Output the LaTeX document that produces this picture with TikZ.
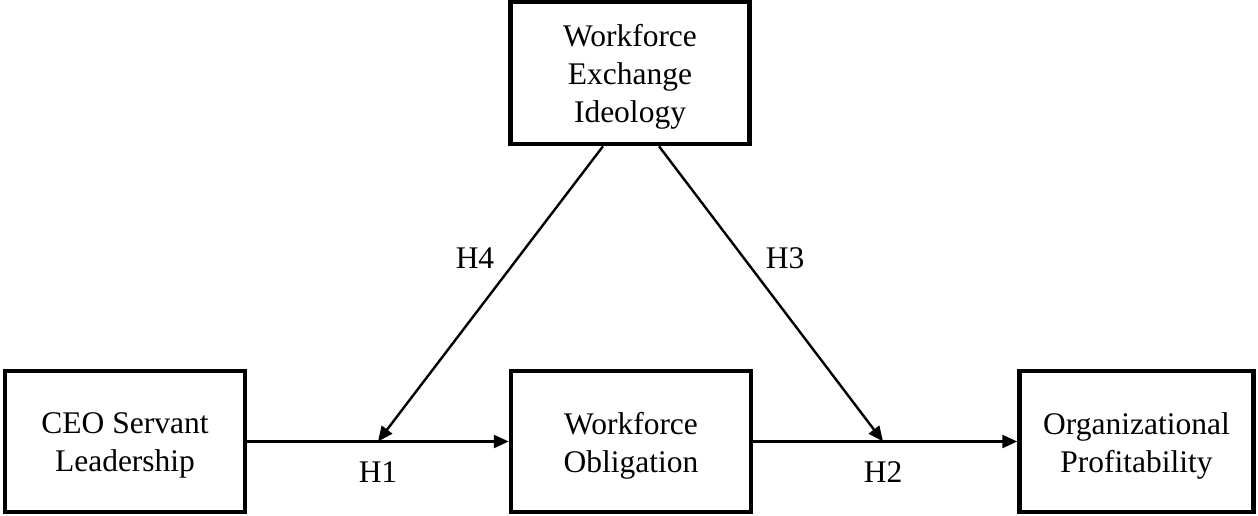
\documentclass[tikz,border=0pt]{standalone}
\usepackage{fontspec}
\setmainfont{Liberation Serif}
\usetikzlibrary{arrows.meta}
\begin{document}
\begin{tikzpicture}[x=1pt,y=1pt,
  box/.style={draw, line width=4.5pt, minimum height=141pt, inner sep=0pt},
  txt/.style={align=center, font=\fontsize{31.5}{38}\selectfont, inner sep=0pt},
  arr/.style={line width=2.4pt, -{Triangle[length=15pt,width=13pt]}},
  lab/.style={font=\fontsize{31.5}{38}\selectfont, inner sep=0pt}]
\useasboundingbox (0,0) rectangle (1258,516);
\node[box, minimum width=240pt] (L) at (125,74.5) {};
\node[box, minimum width=240pt] (M) at (631,74.5) {};
\node[box, minimum width=234pt] (R) at (1136.5,74.5) {};
\node[box, minimum width=239pt, minimum height=142pt] (T) at (630,443) {};
\node[txt] (Lt) at ([yshift=-4pt]L.center) {CEO Servant\\Leadership};
\node[txt] (Mt) at ([yshift=-4pt]M.center) {Workforce\\Obligation};
\node[txt] (Rt) at ([yshift=-4pt]R.center) {Organizational\\Profitability};
\node[txt] (Tt) at ([yshift=-4pt]T.center) {Workforce\\Exchange\\Ideology};
\coordinate (h4start) at (603,0);
\coordinate (h3start) at (659,0);
\coordinate (h4end) at (378,74.5);
\coordinate (h3end) at (883,74.5);
\draw[arr] (L.east) -- (M.west);
\draw[arr] (M.east) -- (R.west);
\draw[arr] (h4start |- T.south) -- (h4end);
\draw[arr] (h3start |- T.south) -- (h3end);
\node[lab] (H1) at (378,44) {H1};
\node[lab] (H2) at (883,44) {H2};
\node[lab] (H4) at (475,258) {H4};
\node[lab] (H3) at (785,258) {H3};
\end{tikzpicture}
\end{document}
